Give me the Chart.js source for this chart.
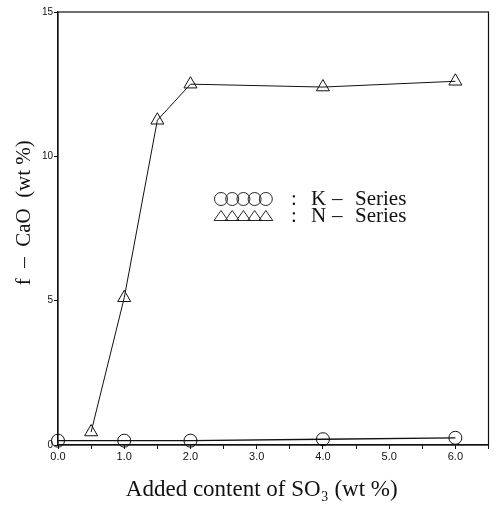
<!DOCTYPE html>
<html>
<head>
<meta charset="utf-8">
<script src="https://cdn.jsdelivr.net/npm/chart.js@4.4.1/dist/chart.umd.min.js"></script>
<style>
  html, body { margin: 0; padding: 0; background: #fff; }
  #wrap { width: 497px; height: 505px; position: relative; }
</style>
</head>
<body>
<div id="wrap"><canvas id="chart"></canvas></div>
<script>
// ===== DATA =====
const kSO3 = [0.0, 1.0, 2.0, 4.0, 6.0];
const kCaO = [0.15, 0.15, 0.15, 0.2, 0.25];
const nSO3 = [0.5, 1.0, 1.5, 2.0, 4.0, 6.0];
const nCaO = [0.45, 5.1, 11.25, 12.5, 12.4, 12.6];
const seriesKeys = ['K', 'N'];
const yTicks = [0, 5, 10, 15];

const serif = '"Liberation Serif", "DejaVu Serif", serif';
const sans = '"Liberation Sans", "DejaVu Sans", sans-serif';

// frame + in-plot legend
const framePlugin = {
    id: 'frame',
    afterDraw(chart) {
        const { ctx, chartArea: a } = chart;
        ctx.save();
        ctx.strokeStyle = '#111';
        ctx.lineWidth = 1.2;
        ctx.strokeRect(a.left, a.top, a.right - a.left, a.bottom - a.top);

        // legend
        const x0 = 221, gap = 11.2, rows = [199, 216];
        ctx.lineWidth = 0.9;
        for (let i = 0; i < 5; i++) {
            ctx.beginPath();
            ctx.arc(x0 + i * gap, rows[0], 6.5, 0, Math.PI * 2);
            ctx.stroke();
        }
        for (let i = 0; i < 5; i++) {
            const cx = x0 + i * gap;
            ctx.beginPath();
            ctx.moveTo(cx - 7, rows[1] + 4.5);
            ctx.lineTo(cx, rows[1] - 5.5);
            ctx.lineTo(cx + 7, rows[1] + 4.5);
            ctx.closePath();
            ctx.stroke();
        }
        ctx.fillStyle = '#111';
        ctx.font = '21px ' + serif;
        ctx.textBaseline = 'middle';
        seriesKeys.forEach((k, i) => {
            ctx.fillText(':', 291, rows[i]);
            ctx.fillText(k, 311, rows[i]);
            ctx.fillText('\u2013', 332, rows[i]);
            ctx.fillText('Series', 355, rows[i]);
        });
        ctx.restore();
    }
};

new Chart(document.getElementById('chart'), {
    type: 'line',
    data: {
        datasets: [
            {
                label: seriesKeys[0] + ' \u2013 Series',
                data: kSO3.map((x, i) => ({ x: x, y: kCaO[i] })),
                borderColor: '#111', borderWidth: 1.3, backgroundColor: 'transparent',
                pointStyle: 'circle', pointRadius: 6.5, pointBorderWidth: 1, pointBorderColor: '#111',
                pointBackgroundColor: 'transparent', tension: 0, clip: false
            },
            {
                label: seriesKeys[1] + ' \u2013 Series',
                data: nSO3.map((x, i) => ({ x: x, y: nCaO[i] })),
                borderColor: '#111', borderWidth: 1, backgroundColor: 'transparent',
                pointStyle: 'triangle', pointRadius: 7.5, pointBorderWidth: 1, pointBorderColor: '#111',
                pointBackgroundColor: 'transparent', tension: 0, clip: false
            }
        ]
    },
    options: {
        responsive: true, maintainAspectRatio: false, animation: false,
        layout: { padding: { top: 12, right: 5, left: 0, bottom: 0 } },
        plugins: { legend: { display: false }, tooltip: { enabled: false } },
        scales: {
            x: {
                type: 'linear', min: 0, max: 6.5,
                afterFit: s => { s.height = 60; },
                border: { color: '#111', width: 1.2 },
                grid: { drawOnChartArea: false, color: '#111', tickLength: 4 },
                ticks: {
                    stepSize: 0.5, autoSkip: false, maxRotation: 0, padding: 1,
                    color: '#111', font: { family: sans, size: 11 },
                    callback: v => Number.isInteger(v) && v <= 6 ? v.toFixed(1) : ''
                },
                title: {
                    display: true, text: 'Added content of SO\u2083 (wt %)\u2002\u2002', color: '#111',
                    font: { family: serif, size: 23 }, padding: { top: 0, bottom: 1 }
                }
            },
            y: {
                min: 0, max: 15,
                afterFit: s => { s.width = 58; },
                afterBuildTicks: s => { s.ticks = yTicks.map(v => ({ value: v })); },
                border: { color: '#111', width: 1.2 },
                grid: { drawOnChartArea: false, color: '#111', tickLength: 4 },
                ticks: { color: '#111', padding: 1, font: { family: sans, size: 10 } },
                title: {
                    display: true, text: '\u2002\u2002\u2002f  \u2013  CaO  (wt %)', color: '#111',
                    font: { family: serif, size: 21 }, padding: { top: 12, bottom: 0 }
                }
            }
        }
    },
    plugins: [framePlugin]
});
</script>
</body>
</html>
